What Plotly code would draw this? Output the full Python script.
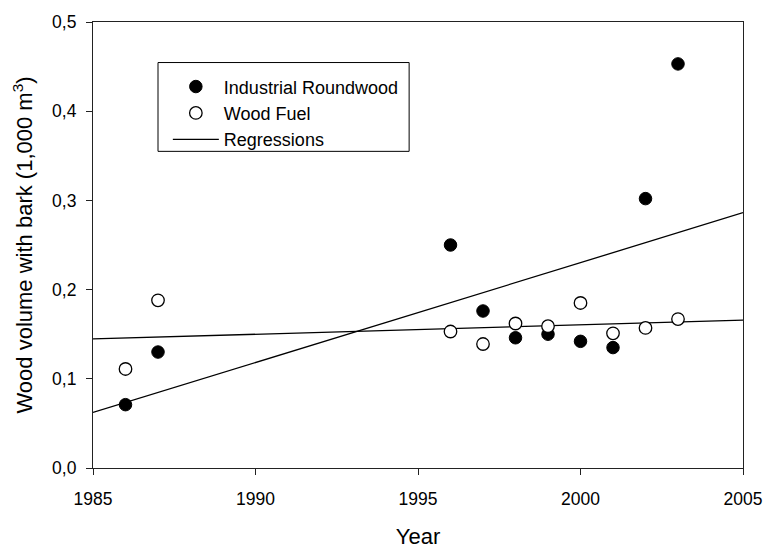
import numpy as np
import plotly.graph_objects as go

# ---- data ----
years_ir = [1986, 1987, 1996, 1997, 1998, 1999, 2000, 2001, 2002, 2003]
industrial_roundwood = [0.071, 0.130, 0.250, 0.176, 0.146, 0.150, 0.142, 0.135, 0.302, 0.453]

years_wf = [1986, 1987, 1996, 1997, 1998, 1999, 2000, 2001, 2002, 2003]
wood_fuel = [0.111, 0.188, 0.153, 0.139, 0.162, 0.159, 0.185, 0.151, 0.157, 0.167]

x_range = [1985, 2005]
x_ticks = [1985, 1990, 1995, 2000, 2005]
y_ticks = [0.0, 0.1, 0.2, 0.3, 0.4, 0.5]
y_tick_labels = ["0,0", "0,1", "0,2", "0,3", "0,4", "0,5"]

# linear regressions computed from the data
fit_ir = np.polyfit(years_ir, industrial_roundwood, 1)
fit_wf = np.polyfit(years_wf, wood_fuel, 1)
line_x = np.array(x_range, dtype=float)

FONT = "Liberation Sans, Arial, sans-serif"
AX = "#222222"

fig = go.Figure()
fig.add_trace(go.Scatter(
    x=line_x, y=np.polyval(fit_ir, line_x), mode="lines",
    line=dict(color="black", width=1.3), name="Regressions", showlegend=False))
fig.add_trace(go.Scatter(
    x=line_x, y=np.polyval(fit_wf, line_x), mode="lines",
    line=dict(color="black", width=1.3), name="Regressions", showlegend=False))
fig.add_trace(go.Scatter(
    x=years_ir, y=industrial_roundwood, mode="markers", name="Industrial Roundwood",
    marker=dict(symbol="circle", size=12.5, color="black", line=dict(color="black", width=1))))
fig.add_trace(go.Scatter(
    x=years_wf, y=wood_fuel, mode="markers", name="Wood Fuel",
    marker=dict(symbol="circle", size=12.5, color="white", line=dict(color="black", width=1.3))))
# legend-only entry for the regression line
fig.add_trace(go.Scatter(
    x=[None], y=[None], mode="lines", name="Regressions",
    line=dict(color="black", width=1.3)))

# legend frame
fig.add_shape(type="rect", xref="paper", yref="paper",
              x0=(159 - 93) / 660, x1=(414 - 93) / 660,
              y0=(483 - 155) / 462, y1=(483 - 63) / 462,
              line=dict(color="black", width=1), fillcolor="rgba(0,0,0,0)")

fig.update_layout(
    width=774, height=556,
    margin=dict(l=93, r=21, t=21, b=73),
    paper_bgcolor="white", plot_bgcolor="white",
    font=dict(family=FONT, size=18, color="black"),
    showlegend=True,
    legend=dict(
        x=(169 - 93) / 660, y=(483 - 69) / 462, xanchor="left", yanchor="top",
        bgcolor="rgba(0,0,0,0)", borderwidth=0,
        font=dict(family=FONT, size=18, color="black"),
        itemwidth=46, tracegroupgap=0,
    ),
)

fig.update_xaxes(
    range=x_range, tickvals=x_ticks, ticks="outside", ticklen=6, tickwidth=1.2,
    tickcolor=AX, showline=True, linecolor=AX, linewidth=1.2, mirror=True,
    showgrid=False, zeroline=False, tickfont=dict(size=17.5), ticklabelstandoff=9,
    title=dict(text="Year", font=dict(size=22), standoff=20),
)
fig.update_yaxes(
    range=[0, 0.5], tickvals=y_ticks, ticktext=y_tick_labels, ticks="outside",
    ticklen=6, tickwidth=1.2, tickcolor=AX, showline=True, linecolor=AX,
    linewidth=1.2, mirror=True, showgrid=False, zeroline=False,
    tickfont=dict(size=17.5), ticklabelstandoff=6,
    title=dict(text="Wood volume with bark (1,000 m<sup>3</sup>)", font=dict(size=22), standoff=13),
)

fig.write_html("out.html",
               config={"displayModeBar": False},
               post_script="document.body.style.margin='0';document.body.style.padding='0';")
